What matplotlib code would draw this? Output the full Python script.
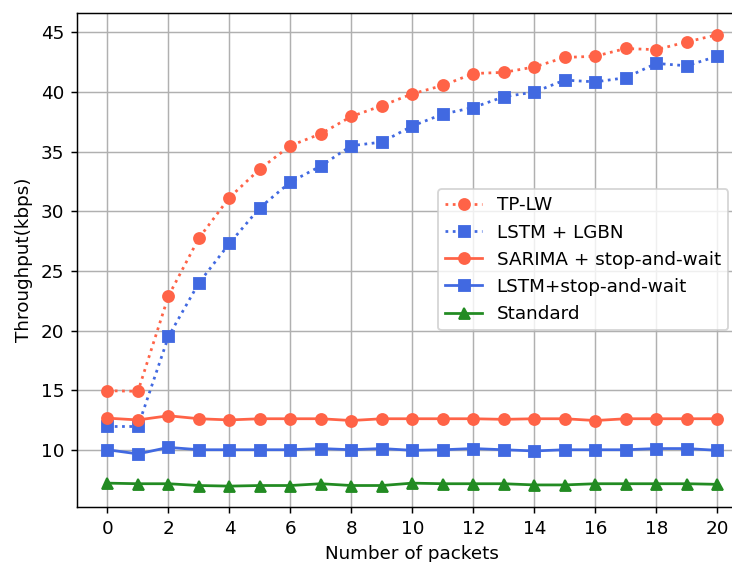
import matplotlib
matplotlib.use("Agg")
import matplotlib.pyplot as plt
import numpy as np

packets = np.arange(21)

tp_lw = [14.95, 14.9, 22.9, 27.75, 31.15, 33.55, 35.5, 36.5, 37.95, 38.85, 39.85,
         40.55, 41.55, 41.65, 42.1, 42.9, 43.0, 43.65, 43.55, 44.2, 44.8]
lstm_lgbn = [11.95, 11.95, 19.5, 24.0, 27.3, 30.3, 32.45, 33.8, 35.5, 35.8, 37.15,
             38.15, 38.7, 39.6, 40.0, 41.0, 40.85, 41.2, 42.4, 42.2, 43.0]
sarima_sw = [12.65, 12.5, 12.85, 12.6, 12.5, 12.6, 12.6, 12.6, 12.45, 12.6, 12.6,
             12.6, 12.6, 12.55, 12.6, 12.6, 12.45, 12.6, 12.6, 12.6, 12.6]
lstm_sw = [10.0, 9.65, 10.2, 10.0, 10.0, 10.0, 10.0, 10.1, 10.0, 10.1, 9.95,
           10.0, 10.1, 10.0, 9.9, 10.0, 10.0, 10.0, 10.1, 10.1, 9.95]
standard = [7.2, 7.15, 7.15, 7.0, 6.95, 7.0, 7.0, 7.15, 7.0, 7.0, 7.2,
            7.15, 7.15, 7.15, 7.05, 7.05, 7.15, 7.15, 7.15, 7.15, 7.1]

red = "#ff6347"
blue = "#4169e1"
green = "#228b22"

dpi = 132
fig = plt.figure(figsize=(732 / dpi, 562 / dpi), dpi=dpi)
# axes runs past the right edge of the figure (the original was cropped)
ax = fig.add_axes([0.1052, 0.0979, 0.9162, 0.8784])

ax.plot(packets, tp_lw, ":", color=red, marker="o", label="TP-LW")
ax.plot(packets, lstm_lgbn, ":", color=blue, marker="s", label="LSTM + LGBN")
ax.plot(packets, sarima_sw, "-", color=red, marker="o", label="SARIMA + stop-and-wait")
ax.plot(packets, lstm_sw, "-", color=blue, marker="s", label="LSTM+stop-and-wait")
ax.plot(packets, standard, "-", color=green, marker="^", label="Standard")

ax.set_xlim(-1, 21)
ax.set_ylim(5.2, 46.6)
ax.set_xticks(range(0, 21, 2))
ax.set_yticks(range(10, 46, 5))
ax.spines["right"].set_visible(False)
ax.grid(True)
ax.set_xlabel("Number of packets")
ax.set_ylabel("Throughput(kbps)")

ax.legend(loc="upper left", bbox_to_anchor=(438 / 732, 1 - 189 / 562),
          bbox_transform=fig.transFigure, borderaxespad=0)

fig.savefig("out.png", dpi=dpi)
